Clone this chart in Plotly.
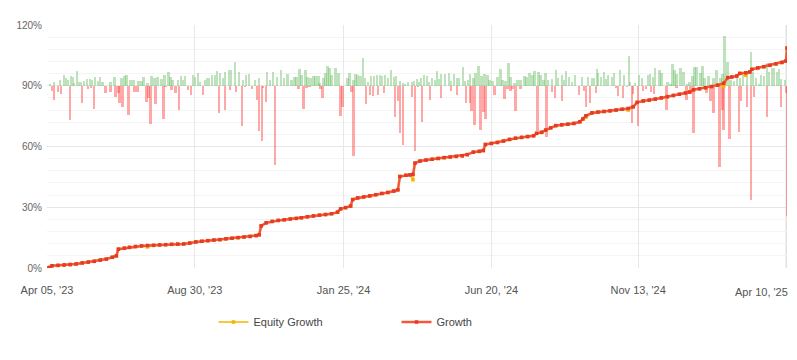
import pandas as pd
import plotly.graph_objects as go

START = "2023-04-05"

# ---- daily result bars (percent, around the 90% baseline) ----
gain_day = [3,7,13,17,19,21,24,26,27,30,32,34,37,40,43,45,48,51,53,55,63,67,74,77,79,83,86,91,94,96,100,104,107,110,114,117,121,
            123,125,130,133,135,137,145,147,150,152,157,159,161,164,167,169,172,175,177,181,183,187,191,195,198,201,207,211,219,222,225,229,233,236,239,243,246,
            248,251,253,257,259,262,265,267,270,271,275,277,279,281,283,287,290,299,301,305,307,309,312,314,316,319,322,325,328,331,333,336,339,342,345,347,351,354,356,359,363,365,368,370,
            372,375,378,380,383,386,388,390,392,396,400,402,405,408,410,414,416,419,421,424,426,429,432,435,438,440,443,448,451,453,456,459,461,465,468,471,475,477,480,483,485,489,491,494,
            496,498,502,506,508,512,514,516,519,522,525,532,538,542,544,547,548,551,554,556,558,562,564,570,574,579,580,585,589,592,598,600,603,605,609,611,617,
            620,622,624,626,630,633,637,639,642,644,646,650,652,654,658,663,666,670,672,674,677,680,683,686,689,692,696,700,702,705,708,710,713,716,718,721,723,726,728,730,734]
gain_pct = [1,2,3,5.4,4,3,4.9,4.4,1.5,7.4,2,2,2.5,3.5,3.5,3,4.4,2.5,4.4,2,2,4.4,4,4.9,5.4,3,3,2.5,2.5,4.4,1.5,4.9,4,4.4,3.5,5.4,6.9,
            4.5,3,3,5,3,5,5.5,4.5,6.5,2,3,4,4,5.5,5.5,7.5,6.5,4,7,8,8,11.5,7,3,5.5,6,3,4,7,3,7,4.5,8,4,6,3,4.5,
            4.5,8.5,5.5,8,4.5,4,5,5,5,1.5,4,6.5,10,9,5.5,9,6.5,4,6.5,3,6,5.5,5,13.5,4,2,5,5,5.5,5.5,5,5.5,4,8,4.5,5,2.5,1.5,1,2,2,2.5,3.5,2,
            4,5.5,5,2,4,3,7.5,3.5,6,6,6.5,2.5,6,4,4,9.5,2.5,3,6,4,6.5,10,5,6,5.5,3,2.5,4.5,8.5,3,2.5,11,4.5,1.5,3,3,5,4.5,6.5,5.5,7.5,7,5.5,3,
            6.5,3,3.5,8,4,5.5,3,7.5,4.5,2,5.5,4.5,4.5,4,4,8.5,6.5,4.5,7,3.5,5.5,4.5,6.5,8,5.5,14.5,2,1.5,5.5,4,5.5,6,4.5,9,8,6.5,2,
            1,10.5,8,6,9,7,1,2,5,9.5,9.5,6.5,10,4,5,4,8,4,6,24.5,11.5,3,2.5,5,4,6,5,16.5,7,4,1,5.5,5,11,7,9,9,7,8.5,3.5,3]

loss_day = [5,7,11,14,23,35,41,44,47,58,63,68,71,72,75,81,87,90,99,101,103,108,116,118,
            124,128,131,140,143,155,171,177,182,188,194,197,204,209,211,214,215,218,227,
            250,255,258,261,272,274,292,294,303,305,317,321,324,329,335,346,349,351,354,363,366,369,
            373,381,392,402,408,417,421,422,425,431,434,436,445,455,458,461,463,466,471,488,
            497,502,505,512,529,534,536,540,546,566,568,573,577,582,583,588,593,596,601,604,616,
            626,636,640,643,656,660,663,669,672,673,679,688,690,696,700,703,716,730,735,736]
loss_pct = [2.5,7,3,4,17,8.5,1.5,1,11.5,3.5,3,5.5,3.5,8.5,10.5,14.5,3,3,8,6,19,9,16.5,0.5,
            2,3.5,12,2,4.5,4.5,13.5,12,2,3,20,0.5,1.5,7,22.5,27.5,1,8,39,
            1.5,11.5,1,0.5,1.5,6,15,10.5,3,34.5,9,4.5,5,4.5,3.5,15.5,7.5,23.5,29.5,5.5,32,0.5,
            18,7,6,2.5,4.5,8.5,8.5,12.5,19.5,22,13,16.5,4.5,6.5,1.5,2.5,1.5,12.5,1.5,22.5,
            25.5,3,6,7.5,4.5,2.5,10.5,8.5,3.5,1,5,6,0.5,18.5,4,20,2.5,1.5,3,4,12,
            1,7,4,23.5,3.5,7.5,13.5,40,12,22,26.5,23,7.5,10.5,56.5,5.5,15.5,10.5,3.5,64.5]

# ---- cumulative growth lines (percent) ----
growth_day = [0,3,5,11,17,23,29,35,41,47,53,59,65,69,71,77,82,88,94,100,
              106,112,118,124,130,136,142,148,154,160,166,172,178,184,190,196,202,208,211,213,
              218,224,230,236,242,248,253,259,265,271,277,283,289,292,297,302,304,309,315,321,
              327,333,339,345,349,351,357,361,364,366,371,377,383,389,395,401,407,413,418,424,
              430,434,436,442,448,454,460,466,472,478,484,487,492,496,501,506,512,518,524,530,
              533,536,542,548,554,560,566,572,578,583,587,593,599,605,611,617,623,629,635,639,
              643,649,655,661,667,673,677,681,686,689,695,699,701,707,713,719,725,731,735,736]
growth_val = [0,0.3,1.1,1.3,1.5,1.7,2.0,2.5,2.9,3.3,3.9,4.4,5.3,6.0,9.3,9.8,10.2,10.6,10.9,11.1,
              11.2,11.4,11.5,11.7,11.8,11.9,12.3,12.9,13.2,13.5,13.8,14.0,14.4,14.7,15.0,15.3,15.6,16.0,16.4,20.8,
              22.3,23.0,23.5,23.8,24.2,24.5,24.8,25.3,25.7,26.1,26.4,26.8,27.6,29.2,29.8,30.6,33.8,34.6,35.1,35.6,
              36.2,36.8,37.3,38.0,38.6,45.2,45.8,46.0,46.2,51.8,52.8,53.3,53.7,54.1,54.5,54.8,55.1,55.4,56.0,57.2,
              57.6,58.0,61.0,61.5,62.0,62.7,63.5,64.1,64.5,64.9,65.3,66.5,67.0,68.1,69.2,70.3,70.7,71.0,71.4,72.2,
              73.6,75.2,76.6,77.0,77.3,77.6,78.0,78.4,78.8,79.6,81.8,82.5,82.9,83.4,84.0,84.6,85.2,85.8,86.4,86.9,
              88.0,88.5,89.0,89.6,90.3,91.2,94.0,94.3,94.8,96.1,96.4,96.8,98.1,98.8,99.4,100.1,100.8,101.5,102.2,108.6]
equity_val = [0,0.3,1.1,1.3,1.5,1.7,2.0,2.5,2.9,3.3,3.9,4.4,5.3,6.0,9.3,9.8,10.2,10.6,10.9,10.4,
              11.2,11.4,11.5,11.7,11.8,11.9,12.3,12.9,13.2,13.5,13.8,14.0,14.4,14.7,15.0,15.3,15.6,16.0,16.4,20.8,
              22.3,23.0,23.5,23.8,24.2,24.5,24.8,25.3,25.7,26.1,26.4,26.8,27.6,29.2,29.8,30.6,33.8,34.6,35.1,35.6,
              36.2,36.8,37.3,38.0,38.6,45.2,45.8,46.0,43.6,51.8,52.8,53.3,53.7,54.1,54.5,54.8,55.1,55.4,56.0,57.2,
              57.6,58.0,61.0,61.5,62.0,62.7,63.5,64.1,64.5,64.9,65.3,66.5,67.0,68.1,69.2,70.3,70.7,71.0,71.4,72.2,
              73.6,74.4,76.6,77.0,77.3,77.6,78.0,78.4,78.0,79.6,81.8,82.5,82.9,83.4,84.0,84.6,85.2,85.8,86.4,86.9,
              88.0,88.5,89.0,89.6,90.3,89.8,94.0,94.3,94.8,96.1,95.2,96.8,98.1,98.8,99.4,100.1,100.8,101.5,102.2,108.6]

tick_dates = ["2023-04-05", "2023-08-30", "2024-01-25", "2024-06-20", "2024-11-13", "2025-04-10"]
tick_text = ["Apr 05, '23", "Aug 30, '23", "Jan 25, '24", "Jun 20, '24", "Nov 13, '24", ""]
last_tick_text = "Apr 10, '25"
y_ticks = [0, 30, 60, 90, 120]
y_tick_text = ["0%", "30%", "60%", "90%", "120%"]
baseline = 90


def to_dates(days):
    return pd.Timestamp(START) + pd.to_timedelta(days, unit="D")


DAY_MS = 86400000
fig = go.Figure()
fig.add_trace(go.Bar(x=to_dates(gain_day), y=gain_pct, base=baseline, width=2.4 * DAY_MS,
                     marker=dict(color="rgba(110,190,105,0.45)", line=dict(width=0)),
                     showlegend=False, hoverinfo="skip"))
fig.add_trace(go.Bar(x=to_dates(loss_day), y=[-v for v in loss_pct], base=baseline, width=2.4 * DAY_MS,
                     marker=dict(color="rgba(255,70,70,0.47)", line=dict(width=0)),
                     showlegend=False, hoverinfo="skip"))
fig.add_trace(go.Scatter(x=to_dates(growth_day), y=equity_val, name="Equity Growth", mode="lines+markers",
                         line=dict(color="#f9c93a", width=2),
                         marker=dict(color="#f5b300", size=3.5, symbol="square")))
fig.add_trace(go.Scatter(x=to_dates(growth_day), y=growth_val, name="Growth", mode="lines+markers",
                         line=dict(color="#f2583a", width=2.5),
                         marker=dict(color="#e5392a", size=3.5, symbol="square")))

fig.add_shape(type="line", xref="x", yref="y", x0=tick_dates[-1], x1=tick_dates[-1], y0=0, y1=120,
              line=dict(color="#e2e2e2", width=3), layer="below")

# the page body adds an 8px offset, so the figure is sized to fit the 797x360 window
fig.update_layout(
    width=789, height=352,
    margin=dict(l=39, r=10, t=17, b=92, autoexpand=False),
    plot_bgcolor="white", paper_bgcolor="white",
    barmode="overlay", bargap=0,
    font=dict(family="Liberation Sans, Arial, sans-serif", size=11, color="#555"),
    showlegend=True,
    legend=dict(orientation="h", x=0.225, xanchor="left", y=-0.222, yanchor="middle",
                entrywidth=138, font=dict(size=11, color="#444"), itemwidth=30),
    xaxis=dict(type="date", range=[tick_dates[0], tick_dates[-1]], automargin=False,
               tickvals=tick_dates, ticktext=tick_text, showgrid=True, gridcolor="#e8e8e8",
               gridwidth=1, zeroline=False, showline=False, ticks="", ticklabelstandoff=14,
               tickfont=dict(size=11, color="#555")),
    yaxis=dict(range=[0, 120], tickvals=y_ticks, ticktext=y_tick_text, showgrid=True, automargin=False,
               gridcolor="#e6e6e6", gridwidth=1, zeroline=False, showline=False, ticks="",
               ticklabelstandoff=4, tickfont=dict(size=10, color="#666"),
               minor=dict(dtick=6, showgrid=True, gridcolor="#f4f4f4", gridwidth=1)),
    annotations=[dict(text=last_tick_text, xref="paper", yref="paper", x=1, y=-0.099,
                      xanchor="right", yanchor="middle", xshift=3, showarrow=False,
                      font=dict(size=11, color="#555"))],
)

fig.write_html("out.html")
